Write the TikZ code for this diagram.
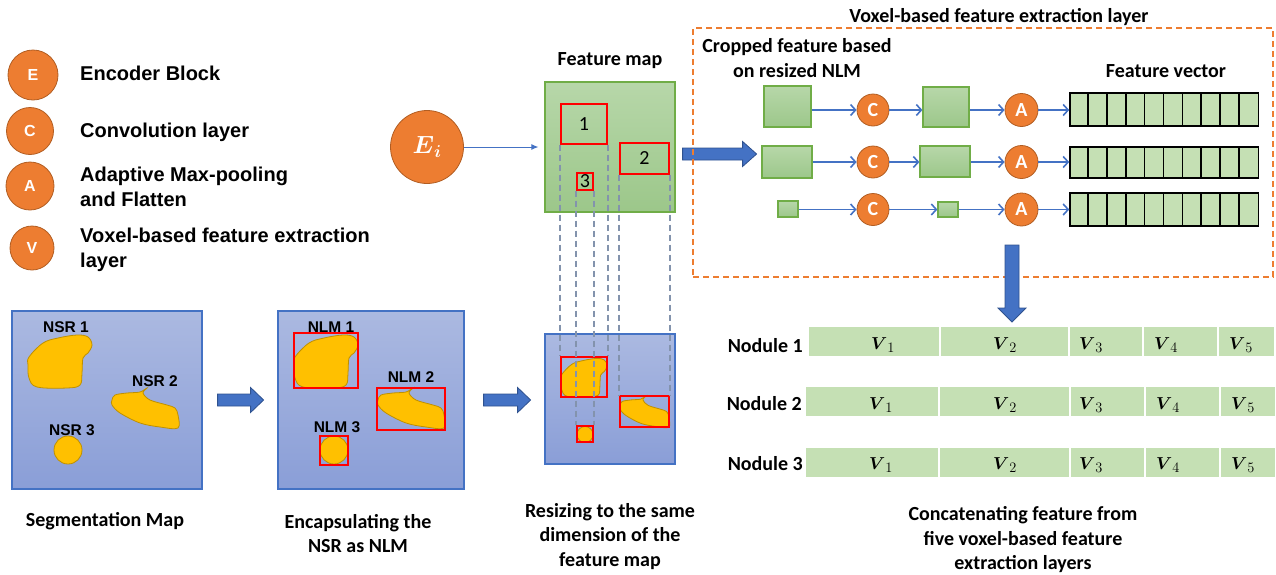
\documentclass[tikz,border=0pt]{standalone}
\usepackage{fontspec}
\usepackage{amsmath}
\setmainfont{Carlito}
\newfontfamily\arialf{Liberation Sans}
\usetikzlibrary{arrows.meta}
\definecolor{orgfill}{HTML}{ED7D31}
\definecolor{orgdraw}{HTML}{B15D22}
\definecolor{bluetop}{HTML}{ABB9E1}
\definecolor{bluebot}{HTML}{8A9ED7}
\definecolor{boxblue}{HTML}{4472C4}
\definecolor{grntop}{HTML}{B7D7A9}
\definecolor{grnbot}{HTML}{9CC78A}
\definecolor{grnline}{HTML}{70AD47}
\definecolor{yel}{HTML}{FFC000}
\definecolor{yeldraw}{HTML}{BF9000}
\definecolor{arrblue}{HTML}{4472C4}
\definecolor{arrdark}{HTML}{2F528F}
\definecolor{dashgray}{HTML}{8393AD}
\definecolor{cellgreen}{HTML}{C5E0B4}
\tikzset{
  orangec/.style={circle, fill=orgfill, draw=orgdraw, line width=0.8pt, inner sep=0pt, text=white},
  legfont/.style={font=\arialf\bfseries\fontsize{16}{16}\selectfont},
  rowfont/.style={font=\bfseries\fontsize{20}{20}\selectfont},
  bluebox/.style={draw=boxblue, line width=1.2pt, top color=bluetop, bottom color=bluebot, inner sep=0pt},
  greenbox/.style={draw=grnline, line width=1.2pt, top color=grntop, bottom color=grnbot, inner sep=0pt},
  redbox/.style={draw=red, line width=1.3pt, inner sep=0pt},
  thinarrow/.style={draw=arrblue, line width=1.6pt, -{Straight Barb[length=5pt,width=11pt]}},
  bigarr/.style={fill=arrblue, draw=arrdark, line width=0.8pt, line join=miter},
  dashline/.style={draw=dashgray, line width=1.8pt, dash pattern=on 6pt off 4pt},
  blobst/.style={fill=yel, draw=yeldraw, line width=0.8pt},
  ncell/.style={fill=cellgreen, draw=white, line width=1.5pt, inner sep=0pt, minimum height=31pt, anchor=west},
  fvbox/.style={fill=cellgreen, draw=black, line width=1.5pt, inner sep=0pt},
  txt/.style={inner sep=0pt, font=\bfseries\fontsize{20}{24.5}\selectfont},
  legtxt/.style={inner sep=0pt, anchor=base west, font=\arialf\bfseries\fontsize{20}{25}\selectfont},
  vlab/.style={inner sep=0pt, anchor=base, font=\fontsize{19}{19}\selectfont},
  lbl/.style={inner sep=0pt, anchor=base, font=\arialf\bfseries\fontsize{15.5}{15.5}\selectfont}
}
\newcommand\drawblobone[1]{\draw[blobst,#1] plot[smooth cycle, tension=0.6] coordinates {(1,24) (15,10) (30,5) (49,2) (60,4) (64,12) (60,20) (55,25) (54,40) (52,52) (39,55) (9,54) (1,45) (0,32)};}
\newcommand\drawblobtwo[1]{\draw[blobst,#1] plot[smooth cycle, tension=0.55] coordinates {(0,12) (3,7) (15,5) (28,4) (35,0) (31,5) (38,12) (55,17) (63,20) (66,27) (66,40) (48,39) (28,35) (8,25) (0,17)};}
\newcommand\ncellnode[4]{\node[ncell, minimum width={#3-#2}] (#1) at (#2,#4) {};}
\begin{document}
\begin{tikzpicture}[x=1pt,y=-1pt]
\useasboundingbox (0,0) rectangle (1276,574);

% ---------- legend ----------
\node[orangec, legfont, minimum size=50pt] (legE) at (33,75) {E};
\node[orangec, legfont, minimum size=47pt] (legC) at (30,131) {C};
\node[orangec, legfont, minimum size=48pt] (legA) at (30,186) {A};
\node[orangec, legfont, minimum size=44pt] (legV) at (32,248) {V};
\node[legtxt] (tE) at (80,80) {Encoder Block};
\node[legtxt] (tC) at (80,137) {Convolution layer};
\node[legtxt] (tA1) at (80,181) {Adaptive Max-pooling};
\node[legtxt] (tA2) at (80,206) {and Flatten};
\node[legtxt] (tV1) at (80,242) {Voxel-based feature extraction};
\node[legtxt] (tV2) at (80,267) {layer};

% ---------- segmentation map ----------
\node[bluebox, minimum width=190pt, minimum height=178pt] (seg) at (107,400) {};
\drawblobone{shift={(28,333)}}
\drawblobtwo{shift={(112,388)}}
\node[circle, blobst, minimum size=28pt, inner sep=0pt] (nsr3) at (68,450) {};
\node[lbl] (lnsr1) at (66,332) {NSR 1};
\node[lbl] (lnsr2) at (155,386) {NSR 2};
\node[lbl] (lnsr3) at (72,435) {NSR 3};
\node[txt, anchor=base] (capseg) at (105,526) {Segmentation Map};

% ---------- NLM map ----------
\node[bluebox, minimum width=186pt, minimum height=178pt] (nlm) at (371,400) {};
\drawblobone{shift={(294,333)}}
\drawblobtwo{shift={(378,388)}}
\node[circle, blobst, minimum size=28pt, inner sep=0pt] (nlmc3) at (334,450) {};
\node[redbox, minimum width=64pt, minimum height=55pt] (nr1) at (326,360.5) {};
\node[redbox, minimum width=68pt, minimum height=42pt] (nr2) at (411,409) {};
\node[redbox, minimum width=28pt, minimum height=29pt] (nr3) at (334,450.5) {};
\node[lbl] (lnlm1) at (331,332) {NLM 1};
\node[lbl] (lnlm2) at (411,382) {NLM 2};
\node[lbl] (lnlm3) at (337,432) {NLM 3};
\node[txt, anchor=north, align=center] (capnlm) at (358,511) {\strut Encapsulating the\\NSR as NLM};

% ---------- resized map ----------
\node[bluebox, minimum width=130pt, minimum height=130pt] (res) at (610,399) {};
\drawblobone{shift={(561,357)}, xscale=0.72, yscale=0.73}
\drawblobtwo{shift={(620,396)}, xscale=0.74, yscale=0.78}
\node[circle, blobst, minimum size=16pt, inner sep=0pt] (resc3) at (585,434.5) {};
\node[redbox, minimum width=46pt, minimum height=40pt] (rr1) at (584,377) {};
\node[redbox, minimum width=49pt, minimum height=31pt] (rr2) at (644.5,411.5) {};
\node[redbox, minimum width=16pt, minimum height=16pt] (rr3) at (585,434) {};
\node[txt, anchor=north, align=center] (capres) at (610,500) {\strut Resizing to the same\\dimension of the\\feature map};

% ---------- feature map ----------
\node[txt, anchor=base] (tfm) at (610,65) {Feature map};
\node[greenbox, minimum width=130pt, minimum height=130pt] (fmap) at (610,147) {};
\node[redbox, minimum width=46pt, minimum height=40pt, font=\fontsize{20}{20}\selectfont] (r1) at (584,124) {1};
\node[redbox, minimum width=49pt, minimum height=31pt, font=\fontsize{20}{20}\selectfont] (r2) at (644.5,158.5) {2};
\node[redbox, minimum width=16pt, minimum height=17pt, font=\fontsize{20}{20}\selectfont] (r3) at (585,181.5) {\raisebox{-2pt}{3}};

% dashed projection lines
\draw[dashline] (r1.south west) -- (rr1.north west);
\draw[dashline] (r1.south east) -- (rr1.north east);
\draw[dashline] (r3.south west) -- (rr3.north west);
\draw[dashline] (r3.south east) -- (rr3.north east);
\draw[dashline] (r2.south west) -- (rr2.north west);
\draw[dashline] (r2.south east) -- (rr2.north east);

% encoder block
\node[orangec, minimum size=73pt, font=\fontsize{23}{23}\selectfont] (Ei) at (427,147) {$\boldsymbol{E}_{\boldsymbol{i}}$};
\draw[draw=arrblue, line width=1pt, -{Latex[length=7pt,width=6pt]}] (Ei.east) -- ([xshift=-6pt]fmap.west |- Ei.east);

% big block arrows
\coordinate (ba1t) at ([xshift=15pt]seg.east);
\filldraw[bigarr] (ba1t) ++(0,-6) -- ++(33,0) -- ++(0,-6.5) -- ++(13,12.5) -- ++(-13,12.5) -- ++(0,-6.5) -- ++(-33,0) -- cycle;
\coordinate (ba2t) at ([xshift=19pt]nlm.east);
\filldraw[bigarr] (ba2t) ++(0,-6) -- ++(34,0) -- ++(0,-6.5) -- ++(13,12.5) -- ++(-13,12.5) -- ++(0,-6.5) -- ++(-34,0) -- cycle;
\coordinate (ba3t) at ([xshift=7pt,yshift=-7pt]fmap.east);
\filldraw[bigarr] (ba3t) ++(0,-6) -- ++(60,0) -- ++(0,-6.5) -- ++(14,12.5) -- ++(-14,12.5) -- ++(0,-6.5) -- ++(-60,0) -- cycle;

% ---------- voxel-based feature extraction layer ----------
\node[txt, anchor=base] (tvox) at (999,22) {Voxel-based feature extraction layer};
\node[draw=orgfill, line width=2.2pt, dash pattern=on 6pt off 4pt, minimum width=580pt, minimum height=249pt, inner sep=0pt] (vbox) at (983,152.5) {};
\node[txt, anchor=north, align=center] (tcrop) at (797,35.5) {\strut Cropped feature based\\on resized NLM};
\node[txt, anchor=base] (tfv) at (1166,77) {Feature vector};

% row 1
\node[greenbox, minimum width=47pt, minimum height=41pt] (p11) at (787.5,106.5) {};
\node[orangec, rowfont, minimum size=32pt] (C1) at (873,110) {C};
\node[greenbox, minimum width=46pt, minimum height=40pt] (p12) at (946,107) {};
\node[orangec, rowfont, minimum size=33pt] (A1) at (1021.5,110) {A};
\node[fvbox, minimum width=188.5pt, minimum height=33pt] (fv1) at (1164.25,109.5) {};
% row 2
\node[greenbox, minimum width=50pt, minimum height=32pt] (p21) at (787,162) {};
\node[orangec, rowfont, minimum size=32pt] (C2) at (873,162) {C};
\node[greenbox, minimum width=50pt, minimum height=31pt] (p22) at (945,161.5) {};
\node[orangec, rowfont, minimum size=33pt] (A2) at (1021.5,162) {A};
\node[fvbox, minimum width=188.5pt, minimum height=31pt] (fv2) at (1164.25,162.5) {};
% row 3
\node[greenbox, minimum width=20pt, minimum height=16pt] (p31) at (788,209) {};
\node[orangec, rowfont, minimum size=32pt] (C3) at (873,209.5) {C};
\node[greenbox, minimum width=20pt, minimum height=15pt] (p32) at (948,209.5) {};
\node[orangec, rowfont, minimum size=33pt] (A3) at (1021.5,209.5) {A};
\node[fvbox, minimum width=188.5pt, minimum height=33pt] (fv3) at (1164.25,209.5) {};

\foreach \r in {fv1,fv2,fv3}{
  \foreach \i in {1,...,9}{
    \draw[line width=1.5pt] ([xshift=\i*18.85pt]\r.north west) -- ([xshift=\i*18.85pt]\r.south west);
  }
}
% row arrows
\draw[thinarrow] (p11.east |- C1.west) -- (C1.west);
\draw[thinarrow] (C1.east) -- (p12.west |- C1.east);
\draw[thinarrow] (p12.east |- A1.west) -- (A1.west);
\draw[thinarrow] (A1.east) -- (fv1.west |- A1.east);
\draw[thinarrow] (p21.east |- C2.west) -- (C2.west);
\draw[thinarrow] (C2.east) -- (p22.west |- C2.east);
\draw[thinarrow] (p22.east |- A2.west) -- (A2.west);
\draw[thinarrow] (A2.east) -- (fv2.west |- A2.east);
\draw[thinarrow] (p31.east |- C3.west) -- (C3.west);
\draw[thinarrow] (C3.east) -- (p32.west |- C3.east);
\draw[thinarrow] (p32.east |- A3.west) -- (A3.west);
\draw[thinarrow] (A3.east) -- (fv3.west |- A3.east);

% down block arrow
\coordinate (ba4t) at (1012,245);
\filldraw[bigarr] (ba4t) ++(-7,0) -- ++(0,63) -- ++(-7,0) -- ++(14,14) -- ++(14,-14) -- ++(-7,0) -- ++(0,-63) -- cycle;

% ---------- nodule rows ----------
\ncellnode{a1}{807}{939}{341.5}
\ncellnode{a2}{939}{1068}{341.5}
\ncellnode{a3}{1068}{1142}{341.5}
\ncellnode{a4}{1142}{1217}{341.5}
\ncellnode{a5}{1217}{1274}{341.5}
\ncellnode{b1}{804}{938}{401.5}
\ncellnode{b2}{938}{1069}{401.5}
\ncellnode{b3}{1069}{1144}{401.5}
\ncellnode{b4}{1144}{1219}{401.5}
\ncellnode{b5}{1219}{1275}{401.5}
\ncellnode{c1}{804}{938}{462.5}
\ncellnode{c2}{938}{1069}{462.5}
\ncellnode{c3}{1069}{1144}{462.5}
\ncellnode{c4}{1144}{1219}{462.5}
\ncellnode{c5}{1219}{1275}{462.5}

\node[txt, anchor=base east] (nod1) at (803,352) {Nodule 1};
\node[txt, anchor=base east] (nod2) at (802,410) {Nodule 2};
\node[txt, anchor=base east] (nod3) at (803,470) {Nodule 3};

\node[vlab] (va1) at (883,349) {$\boldsymbol{V}_1$};
\node[vlab] (va2) at (1005,349) {$\boldsymbol{V}_2$};
\node[vlab] (va3) at (1091,349) {$\boldsymbol{V}_3$};
\node[vlab] (va4) at (1166,349) {$\boldsymbol{V}_4$};
\node[vlab] (va5) at (1241,349) {$\boldsymbol{V}_5$};
\node[vlab] (vb1) at (881,409) {$\boldsymbol{V}_1$};
\node[vlab] (vb2) at (1005,409) {$\boldsymbol{V}_2$};
\node[vlab] (vb3) at (1091,409) {$\boldsymbol{V}_3$};
\node[vlab] (vb4) at (1168,409) {$\boldsymbol{V}_4$};
\node[vlab] (vb5) at (1243,409) {$\boldsymbol{V}_5$};
\node[vlab] (vc1) at (881,469) {$\boldsymbol{V}_1$};
\node[vlab] (vc2) at (1005,469) {$\boldsymbol{V}_2$};
\node[vlab] (vc3) at (1091,469) {$\boldsymbol{V}_3$};
\node[vlab] (vc4) at (1168,469) {$\boldsymbol{V}_4$};
\node[vlab] (vc5) at (1243,469) {$\boldsymbol{V}_5$};

\node[txt, anchor=north, align=center] (capcat) at (1023,503.5) {\strut Concatenating feature from\\five voxel-based feature\\extraction layers};
\end{tikzpicture}
\end{document}
